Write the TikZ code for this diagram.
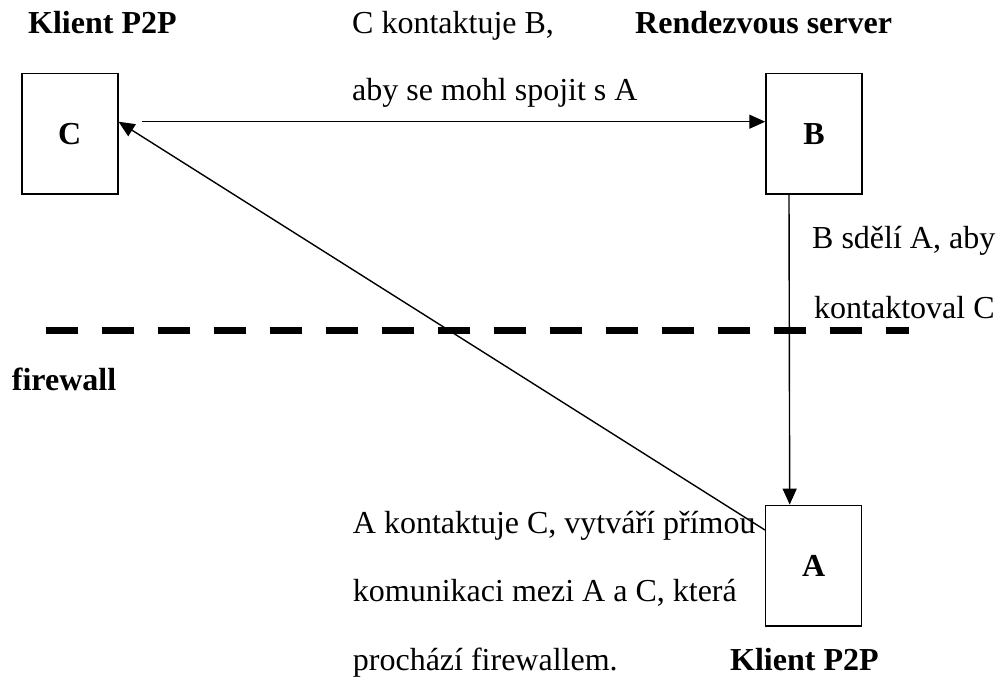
\documentclass[tikz,border=0pt]{standalone}
\usepackage{fontspec}
\setmainfont{Liberation Serif}
\usetikzlibrary{arrows.meta}
\tikzset{
    peer/.style={draw, line width=1.5pt, rectangle, minimum width=96pt, minimum height=120.7pt,
        inner sep=0pt, font=\fontsize{32}{38}\selectfont\bfseries},
    txt/.style={inner sep=0pt, anchor=base west, font=\fontsize{32}{38}\selectfont},
    btxt/.style={txt, font=\fontsize{32}{38}\selectfont\bfseries},
    msg/.style={line width=1.4pt, -{Triangle[length=16pt,width=14pt]}},
}
\begin{document}
\begin{tikzpicture}[x=1pt,y=-1pt]
    \useasboundingbox (0,0) rectangle (997,680);
    \node[peer] (C) at (69.8,133.7) {C};
    \node[peer] (B) at (814,133.7) {B};
    \node[peer] (A) at (813.7,565.7) {A};
    \node[btxt] (klientC) at (28,33) {Klient P2P};
    \node[txt] (msgCB1) at (352,33) {C kontaktuje B,};
    \node[btxt] (rserver) at (635,33) {Rendezvous server};
    \node[txt] (msgCB2) at (352,100) {aby se mohl spojit s A};
    \node[txt] (msgBA1) at (812,248) {B sdělí A, aby};
    \node[txt] (msgBA2) at (814,318) {kontaktoval C};
    \node[btxt] (fwlabel) at (11.7,390) {firewall};
    \node[txt] (msgAC1) at (352.7,533) {A kontaktuje C, vytváří přímou};
    \node[txt] (msgAC2) at (352.7,601.5) {komunikaci mezi A a C, která};
    \node[txt] (msgAC3) at (352.7,670) {prochází firewallem.};
    \node[btxt] (klientA) at (730,670) {Klient P2P};
    \draw[line width=7.5pt, dash pattern=on 32pt off 24pt] (45.7,330.7) -- (909,330.7);
    \draw[msg] ([xshift=23.4pt,yshift=12pt]C.east) -- ([yshift=12pt]B.west);
    \draw[msg] ([xshift=-25pt]B.south) -- ([xshift=-24pt]A.north);
    \draw[msg] ([yshift=35.7pt]A.west) -- ([yshift=12pt]C.east);
\end{tikzpicture}
\end{document}
